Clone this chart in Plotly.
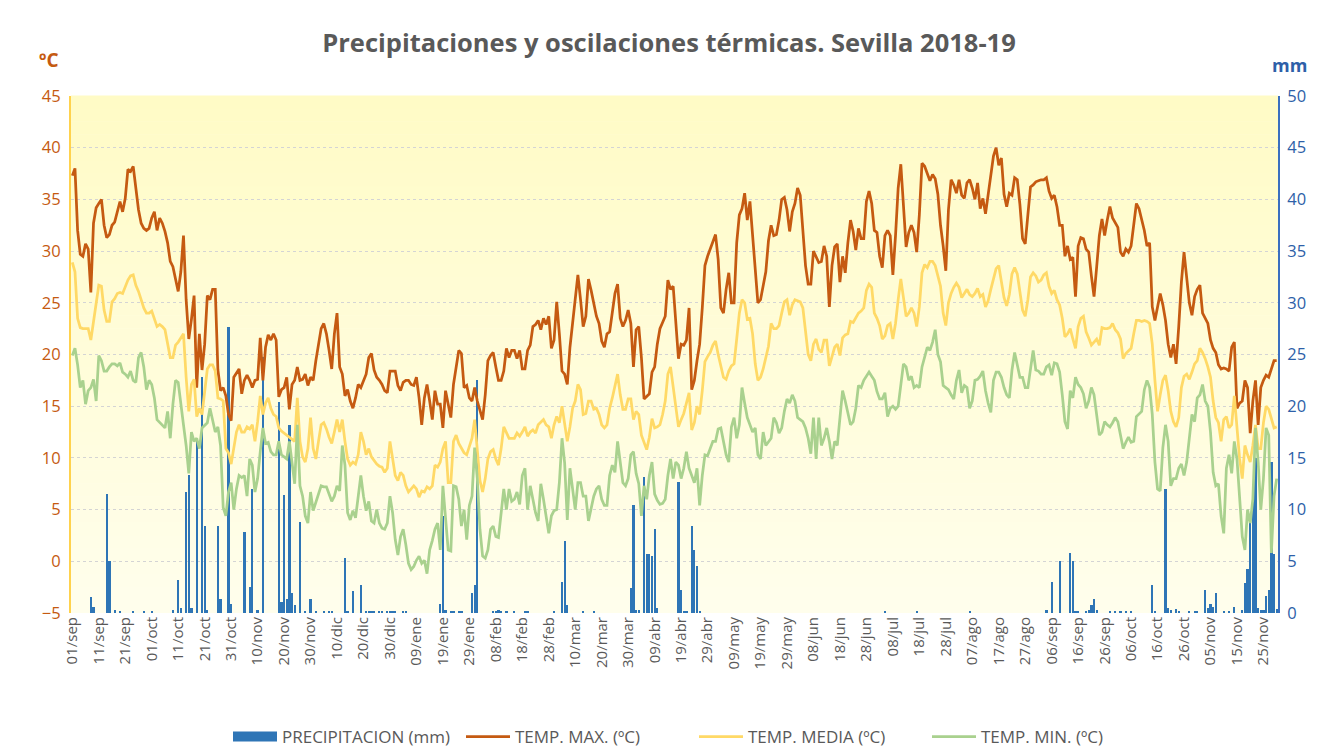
import plotly.graph_objects as go

# ---------------- data (daily, 01/sep/2018 .. 30/nov/2019) ----------------
tick_labels = ["01/sep", "11/sep", "21/sep", "01/oct", "11/oct", "21/oct", "31/oct", "10/nov",
               "20/nov", "30/nov", "10/dic", "20/dic", "30/dic", "09/ene", "19/ene", "29/ene",
               "08/feb", "18/feb", "28/feb", "10/mar", "20/mar", "30/mar", "09/abr", "19/abr",
               "29/abr", "09/may", "19/may", "29/may", "08/jun", "18/jun", "28/jun", "08/jul",
               "18/jul", "28/jul", "07/ago", "17/ago", "27/ago", "06/sep", "16/sep", "26/sep",
               "06/oct", "16/oct", "26/oct", "05/nov", "15/nov", "25/nov"]

tmax = [
    37.3, 38.0, 32.0, 29.7, 29.5, 30.7, 30.2, 26.0, 32.7, 34.2,
    34.6, 35.0, 32.5, 31.3, 31.6, 32.5, 32.8, 33.7, 34.8, 33.8,
    35.1, 37.9, 37.7, 38.2, 36.0, 34.0, 32.7, 32.2, 32.0, 32.2,
    33.2, 33.8, 32.0, 33.2, 32.7, 31.9, 30.8, 29.0, 28.5, 27.3,
    26.1, 28.0, 31.5, 25.3, 21.5, 23.4, 25.7, 16.8, 22.0, 18.5,
    21.0, 25.7, 25.3, 26.3, 26.3, 18.5, 16.5, 16.8, 16.0, 14.2,
    13.6, 17.8, 18.2, 18.6, 16.2, 17.5, 18.0, 17.5, 16.8, 17.5,
    17.6, 21.6, 17.5, 20.7, 21.9, 21.4, 22.0, 21.4, 15.9, 16.6,
    16.8, 17.8, 14.7, 17.1, 17.5, 18.8, 17.5, 17.6, 18.1, 17.0,
    17.8, 17.5, 19.4, 21.0, 22.5, 23.0, 22.0, 20.4, 18.6, 22.0,
    24.0, 18.8, 18.1, 16.0, 16.6, 15.5, 14.8, 15.8, 17.1, 16.8,
    17.5, 18.1, 19.7, 20.1, 18.5, 17.8, 17.5, 17.1, 16.5, 16.3,
    18.4, 18.4, 18.4, 17.0, 16.5, 17.3, 17.5, 17.5, 17.1, 17.0,
    17.8, 15.8, 13.2, 15.8, 17.1, 15.5, 13.7, 16.5, 15.2, 15.2,
    12.9, 16.5, 15.2, 13.9, 17.1, 18.8, 20.4, 20.1, 16.8, 17.0,
    15.8, 15.5, 16.8, 15.5, 14.5, 13.7, 16.1, 19.4, 19.9, 20.2,
    18.8, 17.5, 17.5, 18.4, 20.6, 19.7, 20.4, 20.4, 19.6, 20.4,
    18.6, 18.6, 20.4, 20.9, 22.7, 22.9, 23.3, 22.4, 23.5, 22.9,
    23.7, 20.6, 21.4, 25.1, 22.0, 18.4, 18.1, 17.1, 20.7, 23.0,
    25.3, 27.7, 25.3, 22.7, 23.7, 27.3, 26.2, 24.8, 23.7, 23.0,
    21.3, 20.7, 22.0, 22.2, 24.3, 25.9, 26.8, 23.5, 22.7, 23.3,
    24.3, 23.0, 18.8, 22.4, 22.7, 19.7, 15.7, 16.0, 16.2, 18.3,
    18.8, 21.0, 22.5, 23.1, 23.7, 27.2, 26.3, 26.6, 22.7, 19.6,
    21.0, 20.9, 21.4, 24.5, 16.6, 17.5, 19.4, 21.0, 24.5, 28.6,
    29.5, 30.2, 31.0, 31.6, 29.2, 24.5, 24.0, 26.3, 27.9, 25.0,
    25.0, 30.8, 33.5, 34.1, 35.6, 33.0, 34.8, 31.5, 28.3, 25.0,
    25.3, 26.5, 28.0, 31.0, 32.5, 31.5, 31.6, 33.0, 35.0, 35.2,
    34.0, 31.9, 33.8, 34.6, 36.1, 35.4, 32.0, 28.6, 26.8, 26.8,
    30.0, 29.4, 28.9, 29.0, 30.5, 29.5, 24.6, 28.6, 30.4, 30.7,
    27.0, 29.5, 27.9, 30.8, 33.0, 31.9, 30.1, 32.2, 31.2, 31.2,
    34.8, 35.8, 34.6, 32.0, 31.8, 29.5, 28.4, 31.5, 32.0, 31.5,
    27.7, 31.5, 36.1, 38.4, 34.5, 30.4, 31.8, 32.5, 31.8, 29.9,
    33.5, 38.5, 38.2, 37.5, 36.8, 37.4, 37.0, 35.5, 32.5, 30.5,
    28.1, 34.0, 36.9, 36.4, 35.6, 36.9, 35.4, 35.1, 36.6, 36.9,
    36.1, 35.0, 36.6, 34.1, 35.1, 33.6, 35.5, 37.0, 39.2, 40.0,
    38.3, 39.0, 35.5, 34.3, 35.6, 35.4, 37.1, 36.9, 34.5, 31.2,
    30.7, 33.5, 36.2, 36.4, 36.7, 36.8, 36.9, 36.9, 37.1, 35.8,
    35.1, 35.4, 34.3, 32.5, 32.5, 29.5, 30.5, 29.2, 29.4, 25.6,
    30.5, 31.3, 31.2, 30.2, 29.9, 27.6, 25.6, 28.5, 31.5, 33.1,
    31.5, 33.0, 34.3, 33.2, 32.7, 32.3, 29.9, 29.5, 30.2, 29.9,
    30.5, 32.8, 34.6, 34.1, 33.1, 32.0, 30.5, 30.8, 24.6, 23.3,
    24.6, 25.9, 24.8, 23.3, 21.0, 19.7, 21.0, 19.1, 22.7, 27.0,
    29.9, 27.5, 25.0, 23.8, 25.6, 26.3, 26.7, 24.0, 23.5, 23.0,
    21.4, 20.6, 20.2, 19.0, 18.6, 18.7, 18.6, 18.4, 20.7, 21.2,
    14.8, 15.3, 15.5, 17.5, 16.8, 12.4, 15.5, 17.5, 13.2, 16.8,
    17.5, 18.0, 17.8, 18.5, 19.4, 19.4,
]

tmed = [
    28.9, 28.0, 23.5, 22.6, 22.5, 22.5, 22.5, 21.4, 23.3, 25.0,
    26.7, 26.6, 24.3, 23.2, 23.2, 25.1, 25.4, 25.9, 26.0, 25.9,
    26.6, 27.2, 27.6, 27.7, 26.7, 26.1, 25.3, 24.5, 24.0, 24.0,
    24.2, 23.5, 22.7, 22.9, 22.7, 22.4, 21.0, 19.7, 19.7, 20.9,
    21.2, 21.6, 22.0, 17.8, 14.5, 17.1, 17.6, 14.0, 14.8, 14.2,
    16.5, 18.6, 19.0, 19.0, 18.4, 15.8, 15.7, 15.5, 10.9, 10.5,
    9.4, 10.9, 12.5, 13.2, 12.5, 12.5, 13.0, 12.8, 13.2, 11.6,
    13.5, 16.0, 14.2, 15.3, 15.8, 14.8, 14.2, 14.0, 12.9, 12.6,
    12.4, 12.2, 12.0, 11.8, 11.6, 15.8, 11.6, 10.1, 9.6, 10.9,
    13.9, 10.9, 9.9, 11.6, 13.2, 13.4, 12.8, 12.0, 11.4, 12.5,
    13.7, 12.5, 13.7, 11.6, 9.9, 9.3, 9.6, 9.4, 10.3, 12.5,
    11.6, 10.3, 10.9, 10.1, 9.7, 9.4, 9.2, 9.1, 8.6, 9.0,
    11.6, 9.9, 8.3, 7.8, 8.6, 8.3, 7.3, 6.7, 7.0, 7.3,
    7.0, 6.2, 6.8, 6.7, 7.2, 7.0, 7.3, 9.3, 9.1, 9.6,
    10.9, 11.6, 7.6, 7.6, 11.6, 12.2, 11.4, 11.0, 10.5, 10.3,
    11.0, 11.9, 13.7, 11.0, 7.8, 6.7, 8.0, 9.9, 10.6, 10.8,
    9.9, 9.3, 10.9, 13.0, 12.4, 11.9, 11.9, 11.9, 12.4, 12.1,
    12.5, 13.0, 12.1, 12.5, 12.7, 12.4, 13.2, 13.5, 13.7, 13.2,
    13.0, 11.9, 13.2, 14.0, 13.4, 15.0, 13.5, 11.6, 13.0, 14.8,
    15.5, 17.1, 16.6, 14.2, 14.3, 15.5, 15.5, 14.7, 14.8, 14.2,
    13.2, 12.9, 13.2, 14.8, 15.8, 17.1, 18.1, 16.1, 14.7, 14.7,
    15.7, 15.7, 13.7, 14.5, 14.2, 12.2, 11.4, 10.8, 12.0, 13.8,
    12.9, 13.0, 13.2, 14.2, 15.5, 18.1, 18.8, 16.8, 14.5, 13.0,
    13.7, 14.3, 15.3, 16.3, 12.7, 13.4, 15.0, 14.2, 16.5, 19.3,
    19.8, 20.2, 20.9, 21.3, 20.0, 18.8, 17.8, 17.6, 18.4, 18.9,
    19.1, 21.5, 24.0, 25.3, 25.0, 23.4, 23.5, 22.0, 19.1, 17.5,
    17.8, 18.6, 19.7, 20.8, 23.0, 22.5, 22.5, 22.8, 24.0, 25.1,
    25.3, 23.8, 24.8, 25.3, 25.2, 25.1, 24.5, 22.0, 20.0, 19.4,
    21.0, 21.5, 20.5, 20.2, 21.4, 21.4, 18.9, 19.8, 20.7, 21.0,
    19.9, 21.6, 21.9, 22.0, 23.2, 23.1, 23.6, 24.0, 24.2, 24.5,
    26.2, 26.8, 26.5, 24.0, 23.5, 22.8, 21.5, 21.8, 22.8, 23.0,
    21.5, 23.0, 25.3, 27.3, 25.5, 23.7, 24.0, 24.5, 24.0, 22.7,
    24.6, 27.9, 28.7, 28.4, 29.0, 29.0, 28.6, 27.7, 26.6, 24.0,
    22.8, 25.0, 25.9, 26.5, 26.9, 26.5, 25.5, 25.9, 26.3, 25.8,
    25.6, 25.9, 26.4, 25.6, 25.8, 24.6, 25.2, 26.3, 27.3, 28.3,
    28.6, 27.0, 25.5, 24.7, 25.8, 27.8, 28.4, 27.8, 26.0, 24.3,
    23.7, 25.3, 27.5, 27.9, 27.6, 27.0, 27.2, 27.7, 27.9, 26.6,
    25.9, 26.2, 25.3, 24.8, 23.5, 21.7, 22.0, 22.5, 21.5, 20.6,
    22.7, 23.5, 23.7, 22.2, 21.6, 20.9, 21.2, 21.5, 20.9, 22.6,
    22.5, 22.5, 22.6, 23.0, 22.4, 22.1, 21.5, 19.6, 20.1, 20.4,
    20.6, 22.0, 23.3, 23.3, 23.2, 23.3, 23.2, 23.0, 21.0, 17.5,
    14.5, 16.1, 17.5, 18.0, 16.5, 14.5, 13.5, 13.0, 13.9, 16.8,
    17.9, 18.1, 17.6, 18.3, 19.1, 19.4, 20.6, 20.2, 19.6, 18.8,
    17.8, 15.5, 13.9, 13.4, 11.6, 13.7, 14.0, 12.9, 13.2, 16.0,
    13.0, 9.9, 8.0, 11.2, 10.3, 9.6, 11.2, 13.2, 10.9, 10.9,
    13.4, 15.0, 14.7, 13.9, 12.9, 13.0,
]

tmin = [
    19.9, 20.6, 19.0, 16.8, 17.5, 15.2, 16.5, 16.8, 17.6, 15.5,
    19.9, 19.4, 18.4, 18.4, 18.8, 19.1, 19.1, 18.9, 19.2, 18.3,
    18.1, 17.8, 18.4, 17.5, 17.3, 19.7, 20.2, 18.8, 16.6, 17.5,
    17.1, 15.8, 13.7, 13.4, 13.2, 12.9, 14.5, 11.9, 15.2, 17.5,
    17.3, 15.5, 13.2, 11.2, 8.5, 12.5, 11.6, 11.9, 10.9, 12.9,
    13.2, 13.4, 14.8, 13.5, 12.5, 13.0, 11.2, 5.2, 4.4, 6.7,
    7.6, 5.0, 7.0, 8.3, 8.1, 8.3, 6.3, 9.9, 9.3, 6.7,
    8.0, 10.6, 12.9, 11.4, 11.5, 10.6, 10.3, 10.3, 11.6, 10.3,
    10.1, 9.9, 11.6, 9.6, 7.5, 13.2, 7.3, 6.3, 4.4, 3.7,
    6.7, 4.9, 5.7, 6.5, 7.3, 7.2, 7.2, 6.5, 5.8, 6.3,
    7.3, 6.8, 11.2, 9.3, 4.7, 4.0, 4.9, 4.2, 6.0, 8.3,
    6.3, 4.9, 5.8, 3.9, 3.7, 5.0, 3.7, 3.2, 3.1, 3.7,
    6.3, 4.7, 2.1, 0.6, 2.4, 3.1, 1.6, -0.2, -0.8, -0.5,
    0.1, 0.5, -0.2, 0.1, -1.2, 1.1, 2.0, 3.1, 3.7, 1.1,
    7.3, 4.0, 1.1, 1.0, 7.3, 7.2, 6.0, 3.4, 5.0, 2.1,
    5.4, 6.3, 11.0, 8.0, 3.1, 0.5, 0.3, 1.1, 3.1, 3.4,
    2.4, 2.3, 4.7, 7.0, 5.0, 7.0, 5.8, 6.0, 6.7, 5.5,
    8.3, 9.0, 5.0, 7.3, 6.0, 4.7, 3.9, 7.5, 6.0, 4.4,
    2.7, 4.4, 4.9, 5.0, 7.6, 11.9, 9.5, 4.0, 9.0, 7.0,
    5.0, 7.6, 7.6, 6.3, 6.3, 3.9, 5.0, 6.3, 7.0, 7.3,
    6.0, 5.4, 5.4, 8.3, 9.3, 8.6, 11.6, 9.3, 7.6, 7.3,
    8.0, 10.3, 10.6, 8.5, 7.5, 4.4, 7.3, 6.0, 8.3, 9.6,
    6.5, 5.9, 5.5, 5.6, 6.0, 8.3, 9.9, 8.0, 9.6, 9.3,
    8.0, 9.0, 10.6, 9.0, 8.3, 7.6, 9.0, 5.4, 8.3, 10.3,
    10.2, 10.9, 11.6, 11.6, 12.8, 12.9, 11.6, 10.3, 9.6, 13.0,
    13.9, 11.9, 13.2, 16.8, 15.3, 13.9, 13.2, 12.5, 12.9, 10.3,
    9.9, 12.5, 11.2, 11.6, 11.9, 13.9, 13.4, 12.4, 12.9, 14.5,
    15.7, 15.3, 16.1, 15.5, 13.9, 13.7, 13.5, 12.9, 11.9, 10.4,
    13.9, 9.9, 13.9, 11.2, 11.9, 12.9, 11.6, 9.9, 11.6, 11.2,
    13.9, 16.5, 15.5, 14.2, 13.2, 13.5, 14.8, 17.0, 16.8, 17.5,
    17.9, 18.3, 17.9, 17.5, 16.4, 15.7, 15.7, 16.3, 14.0, 14.8,
    15.0, 14.7, 15.0, 17.1, 19.1, 18.8, 17.5, 17.9, 16.8, 17.0,
    16.8, 18.8, 19.7, 20.7, 20.4, 21.2, 22.4, 20.0, 19.3, 17.0,
    16.8, 16.6, 16.1, 15.7, 17.5, 18.5, 16.3, 17.0, 16.8, 14.8,
    15.5, 17.5, 17.6, 17.9, 18.4, 16.5, 15.3, 14.4, 17.5, 18.3,
    18.3, 17.8, 16.8, 16.1, 15.8, 18.5, 20.2, 18.8, 17.8, 17.8,
    16.8, 16.8, 18.6, 20.4, 18.5, 18.4, 18.1, 18.1, 18.8, 19.0,
    18.0, 19.2, 19.1, 18.3, 16.1, 13.5, 12.8, 16.5, 15.8, 17.8,
    17.1, 16.8, 16.2, 14.8, 15.5, 16.8, 16.1, 14.2, 12.2, 12.5,
    13.5, 13.2, 13.0, 13.4, 13.9, 13.5, 12.2, 10.9, 11.5, 12.0,
    11.5, 11.6, 14.0, 14.3, 14.5, 16.6, 17.5, 16.8, 14.2, 9.6,
    7.0, 6.8, 11.0, 13.2, 11.6, 7.3, 8.0, 8.0, 9.0, 9.4,
    8.3, 9.6, 12.2, 14.2, 13.5, 15.8, 16.1, 17.1, 15.5, 15.0,
    12.5, 8.6, 7.3, 7.5, 4.4, 2.7, 9.0, 10.3, 8.5, 11.6,
    9.9, 6.3, 2.4, 1.1, 5.0, 3.7, 6.0, 12.9, 9.6, 5.0,
    8.0, 12.9, 12.2, 0.8, 6.3, 8.0,
]

precip = [
    0, 0, 0, 0, 0, 0, 0, 1.5, 0.6, 0,
    0, 0, 0, 11.5, 5.0, 0, 0.3, 0, 0.2, 0,
    0, 0, 0, 0.2, 0, 0, 0, 0.1, 0, 0,
    0.2, 0, 0, 0, 0, 0, 0, 0, 0.3, 0,
    3.2, 0.5, 0, 11.7, 13.3, 0.5, 0, 16.9, 0, 22.8,
    8.4, 0.3, 0, 0, 0, 8.4, 1.4, 0, 0, 27.7,
    0.9, 0, 0, 0, 0, 7.8, 0, 2.5, 12.0, 0,
    0.3, 0, 24.8, 0, 0, 0, 0, 0, 20.4, 1.1,
    11.4, 1.4, 18.2, 1.9, 0.8, 0, 8.8, 0, 0.2, 0,
    1.4, 0, 0.1, 0, 0, 0.1, 0, 0.1, 0.1, 0,
    0, 0, 0, 5.3, 0.2, 0, 2.1, 0, 0, 2.7,
    0, 0.2, 0.1, 0.1, 0.1, 0, 0.1, 0.1, 0, 0.1,
    0.1, 0.1, 0.1, 0, 0, 0.1, 0.1, 0, 0, 0,
    0, 0, 0, 0, 0, 0, 0, 0, 0, 0.9,
    9.4, 0.3, 0, 0.1, 0.1, 0, 0.1, 0.1, 0, 0,
    0, 1.9, 2.7, 22.5, 0, 0, 0, 0, 0, 0.2,
    0.2, 0.3, 0.2, 0, 0.2, 0, 0, 0.1, 0, 0,
    0, 0.1, 0.1, 0, 0, 0, 0, 0, 0, 0,
    0, 0, 0.1, 0, 0, 3.0, 7.0, 0.8, 0, 0,
    0, 0, 0, 0.1, 0, 0, 0, 0.1, 0, 0,
    0, 0, 0, 0, 0, 0, 0, 0, 0, 0,
    0, 2.4, 10.4, 0.3, 0.3, 0, 13.2, 5.7, 5.7, 5.5,
    8.1, 0.5, 0, 0, 0, 0, 0, 0, 0, 12.7,
    2.2, 0.2, 0.2, 0, 8.4, 6.1, 4.5, 0.1, 0, 0,
    0, 0, 0, 0, 0, 0, 0, 0, 0, 0,
    0, 0, 0, 0, 0, 0, 0, 0, 0, 0,
    0, 0, 0, 0, 0, 0, 0, 0, 0, 0,
    0, 0, 0, 0, 0, 0, 0, 0, 0, 0,
    0, 0, 0, 0, 0, 0, 0, 0, 0, 0,
    0, 0, 0, 0, 0, 0, 0, 0, 0, 0,
    0, 0, 0, 0, 0, 0, 0, 0.1, 0, 0,
    0, 0, 0, 0, 0, 0, 0, 0, 0, 0.1,
    0, 0, 0, 0, 0, 0, 0, 0, 0, 0,
    0, 0, 0, 0, 0, 0, 0, 0, 0, 0.1,
    0, 0, 0, 0, 0, 0, 0, 0, 0, 0,
    0, 0, 0, 0, 0, 0, 0, 0, 0, 0,
    0, 0, 0, 0, 0, 0, 0, 0, 0.3, 0,
    3.0, 0, 0, 5.0, 0, 0, 0, 5.8, 5.0, 0.2,
    0.1, 0, 0, 0.1, 0.3, 0.8, 1.4, 0.3, 0, 0,
    0, 0, 0.1, 0, 0.1, 0, 0.1, 0, 0.1, 0,
    0.1, 0, 0, 0, 0, 0, 0, 0, 2.7, 0.2,
    0, 0, 0, 12.0, 0.5, 0.3, 0, 0.4, 0.2, 0,
    0, 0, 0.1, 0, 0.1, 0.1, 0, 0, 2.2, 0.5,
    0.9, 0.6, 1.9, 0, 0, 0.1, 0, 0.1, 0, 0.6,
    0, 0, 0.3, 2.9, 4.3, 8.8, 10.7, 15.0, 0.5, 0.3,
    0.3, 1.6, 2.2, 14.6, 5.7, 0.4,
]

series_names = ["PRECIPITACION (mm)", "TEMP. MAX. (ºC)", "TEMP. MEDIA (ºC)", "TEMP. MIN. (ºC)"]
title_text = "Precipitaciones y oscilaciones térmicas. Sevilla 2018-19"

# ---------------- styling ----------------
C_MAX = "#C55A11"
C_MED = "#FFD966"
C_MIN = "#A9D18E"
C_PRE = "#2E75B6"
C_BLUE_TXT = "#2E5FA8"
C_TXT = "#595959"
FONT = "'Open Sans', 'Liberation Sans', sans-serif"

# The page body adds an 8 px margin, so the figure is laid out 8 px up/left.
W, H = 1311, 741
L, T, R, B = 63, 88, 41, 136     # plot area: x 63..1270, y 88..605 (figure px)

n = len(tmax)
days = list(range(n))

fig = go.Figure()
fig.add_trace(go.Bar(x=days, y=precip, name=series_names[0], marker=dict(color=C_PRE, line=dict(width=0)),
                     width=0.85, yaxis="y", showlegend=False, legendgroup="p"))
# legend key for the precipitation series (wide rectangle as in the original)
fig.add_trace(go.Scatter(x=[None], y=[None], name=series_names[0], mode="lines", legendgroup="p",
                         line=dict(color=C_PRE, width=10), yaxis="y", showlegend=True))
fig.add_trace(go.Scatter(x=days, y=tmax, name=series_names[1], mode="lines",
                         line=dict(color=C_MAX, width=2.75), yaxis="y2"))
fig.add_trace(go.Scatter(x=days, y=tmed, name=series_names[2], mode="lines",
                         line=dict(color=C_MED, width=2.75), yaxis="y2"))
fig.add_trace(go.Scatter(x=days, y=tmin, name=series_names[3], mode="lines",
                         line=dict(color=C_MIN, width=2.75), yaxis="y2"))

# plot-area vertical gradient (pale yellow)
top = (255, 251, 198)
bot = (255, 254, 236)
N = 40
shapes = []
for i in range(N):
    f = (i + 0.5) / N
    col = tuple(round(bot[k] + (top[k] - bot[k]) * f) for k in range(3))
    shapes.append(dict(type="rect", xref="paper", yref="paper", x0=0, x1=1, y0=i / N, y1=(i + 1) / N + 0.001,
                       fillcolor="rgb(%d,%d,%d)" % col, line=dict(width=0), layer="below"))

pw = W - L - R
ph = H - T - B

fig.update_layout(
    width=W, height=H,
    margin=dict(l=L, r=R, t=T, b=B, autoexpand=False),
    paper_bgcolor="white",
    plot_bgcolor="rgba(0,0,0,0)",
    shapes=shapes,
    bargap=0,
    showlegend=True,
    title=dict(text="<b>" + title_text + "</b>", x=(661 - L) / pw, xref="paper", xanchor="center",
               y=1 - 35 / H, yanchor="middle",
               font=dict(family=FONT, size=25.5, color=C_TXT)),
    font=dict(family=FONT, color=C_TXT),
    xaxis=dict(range=[-0.5, n - 0.5], tickvals=list(range(0, n, 10)), ticktext=tick_labels,
               tickangle=-90, tickfont=dict(size=15, color=C_TXT, family=FONT),
               showgrid=False, zeroline=False, showline=False, ticks="", automargin=False),
    yaxis=dict(side="right", range=[0, 50], dtick=5, tick0=0,
               showgrid=True, gridcolor="#D4D4D4", griddash="dot", gridwidth=1,
               zeroline=False, showline=True, linecolor="#3A6FC0", linewidth=2,
               tickfont=dict(size=16.5, color=C_BLUE_TXT, family=FONT), ticks="", automargin=False,
               ticklabelstandoff=4),
    yaxis2=dict(side="left", overlaying="y", range=[-5, 45], dtick=5, tick0=-5,
                showgrid=False, zeroline=False, showline=True, linecolor="#FFD24D", linewidth=2,
                tickfont=dict(size=16.5, color=C_MAX, family=FONT), ticks="", automargin=False,
                ticklabelstandoff=5),
    legend=dict(orientation="h", x=(220 - L) / pw, xanchor="left", y=1 - 729 / H, yanchor="middle",
                yref="container", itemwidth=44,
                font=dict(size=17, color=C_TXT, family=FONT), bgcolor="rgba(0,0,0,0)",
                traceorder="normal", entrywidth=174, entrywidthmode="pixels"),
    annotations=[
        dict(text="<b>ºC</b>", xref="paper", yref="paper", x=(40 - L) / pw, y=(605 - 52) / ph,
             xanchor="center", yanchor="middle", showarrow=False,
             font=dict(size=19, color=C_MAX, family=FONT)),
        dict(text="<b>mm</b>", xref="paper", yref="paper", x=(1281 - L) / pw, y=(605 - 57) / ph,
             xanchor="center", yanchor="middle", showarrow=False,
             font=dict(size=18, color=C_BLUE_TXT, family=FONT)),
    ],
)

fig.write_html("out.html")
